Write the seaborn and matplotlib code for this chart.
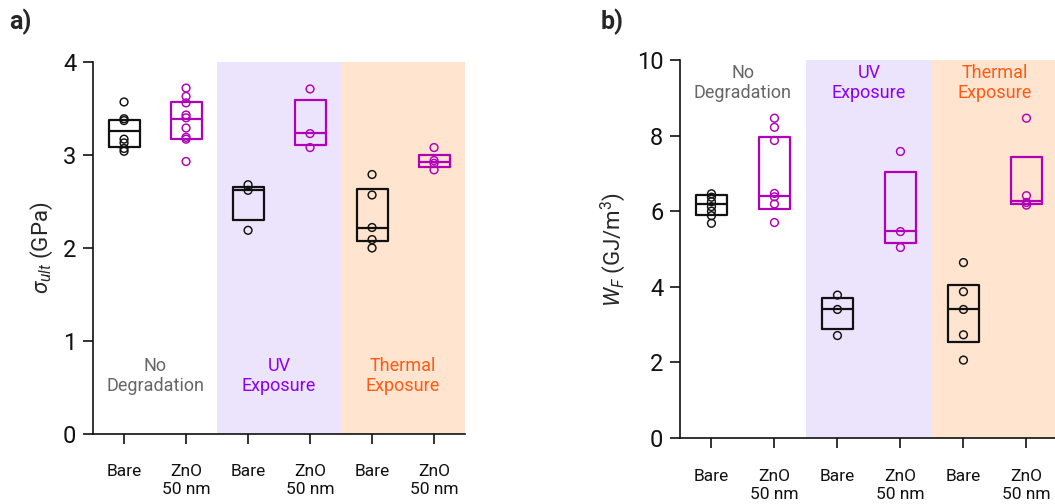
import matplotlib
matplotlib.use("Agg")
import matplotlib.pyplot as plt
import numpy as np
import pandas as pd
import seaborn as sns

# ---- categories -------------------------------------------------------------
groups = ["none_bare", "none_zno", "uv_bare", "uv_zno", "th_bare", "th_zno"]
coating = ["Bare", "ZnO", "Bare", "ZnO", "Bare", "ZnO"]
tick_labels = ["Bare", "ZnO\n50 nm", "Bare", "ZnO\n50 nm", "Bare", "ZnO\n50 nm"]

# ---- (a) ultimate tensile strength, GPa ---------------------------------------
sigma_none_bare = [3.57, 3.39, 3.37, 3.17, 3.13, 3.07, 3.04]
sigma_none_zno = [3.72, 3.63, 3.56, 3.43, 3.40, 3.29, 3.19, 3.17, 2.93]
sigma_uv_bare = [2.68, 2.62, 2.19]
sigma_uv_zno = [3.71, 3.23, 3.08]
sigma_th_bare = [2.79, 2.57, 2.22, 2.09, 2.00]
sigma_th_zno = [3.08, 2.94, 2.91, 2.84]
sigma_q1 = [3.09, 3.17, 2.30, 3.11, 2.07, 2.87]
sigma_mid = [3.26, 3.39, 2.62, 3.24, 2.22, 2.92]
sigma_q3 = [3.38, 3.57, 2.66, 3.59, 2.63, 3.00]

# ---- (b) work of fracture, GJ/m^3 ---------------------------------------------
wf_none_bare = [6.46, 6.37, 6.25, 6.12, 6.00, 5.88, 5.68]
wf_none_zno = [8.46, 8.22, 7.87, 6.47, 6.38, 6.19, 5.70]
wf_uv_bare = [3.78, 3.40, 2.71]
wf_uv_zno = [7.58, 5.46, 5.04]
wf_th_bare = [4.64, 3.87, 3.40, 2.73, 2.06]
wf_th_zno = [8.46, 6.41, 6.23, 6.16]
wf_q1 = [5.89, 6.05, 2.89, 5.17, 2.55, 6.19]
wf_mid = [6.19, 6.40, 3.42, 5.48, 3.40, 6.28]
wf_q3 = [6.42, 7.96, 3.69, 7.04, 4.05, 7.43]

condition_labels = ["No\nDegradation", "UV\nExposure", "Thermal\nExposure"]

# ---- style ------------------------------------------------------------------
sns.set_theme(style="ticks")
plt.rcParams["font.family"] = ["Roboto", "DejaVu Sans"]
plt.rcParams["mathtext.fontset"] = "custom"
plt.rcParams["mathtext.rm"] = "Roboto"
plt.rcParams["mathtext.it"] = "Roboto:italic"
plt.rcParams["mathtext.bf"] = "Roboto:bold"

INK = "#111111"
MAGENTA = "#B000B8"
UV_FILL = "#ECE4FD"
TH_FILL = "#FFE5CF"
TEXT_COLORS = ["#666666", "#8A00F5", "#FF5A14"]
palette = {"Bare": INK, "ZnO": MAGENTA}


def long_frame(point_lists):
    rows = []
    for g, kind, vals in zip(groups, coating, point_lists):
        for v in vals:
            rows.append({"group": g, "coating": kind, "value": v})
    return pd.DataFrame(rows)


def draw_panel(ax, point_lists, q1, mid, q3, ylim, yticks, ylabel, text_y):
    # shaded condition bands
    ax.axvspan(1.5, 3.5, color=UV_FILL, lw=0, zorder=0)
    ax.axvspan(3.5, 5.5, color=TH_FILL, lw=0, zorder=0)

    df = long_frame(point_lists)
    sns.stripplot(data=df, x="group", y="value", hue="coating", order=groups,
                  palette=palette, jitter=False, size=5.6, linewidth=1.05,
                  legend=False, ax=ax, zorder=4)
    for coll in ax.collections:
        fc = coll.get_facecolors()
        coll.set_edgecolors(fc)
        coll.set_facecolors("none")

    stats = [{"q1": a, "med": m, "q3": b, "whislo": a, "whishi": b, "fliers": []}
             for a, m, b in zip(q1, mid, q3)]
    art = ax.bxp(stats, positions=np.arange(len(groups)), widths=0.5,
                 showcaps=False, showfliers=False, manage_ticks=False,
                 boxprops={"linewidth": 1.6}, medianprops={"linewidth": 1.6},
                 whiskerprops={"linewidth": 0})
    for i, kind in enumerate(coating):
        c = palette[kind]
        art["boxes"][i].set_color(c)
        art["medians"][i].set_color(c)
        art["boxes"][i].set_zorder(3)
        art["medians"][i].set_zorder(3)

    for x, lab, col in zip([0.5, 2.5, 4.5], condition_labels, TEXT_COLORS):
        ax.text(x, text_y, lab, ha="center", va="center", color=col,
                fontsize=13, linespacing=1.15, zorder=5)

    ax.set_xlim(-0.5, 5.5)
    ax.set_ylim(*ylim)
    ax.set_yticks(yticks)
    ax.set_xticks(np.arange(len(groups)))
    ax.set_xticklabels(tick_labels, linespacing=1.25)
    ax.set_xlabel("")
    ax.set_ylabel(ylabel, fontsize=16, labelpad=6)
    ax.tick_params(axis="y", length=7, width=1.2, labelsize=17, pad=5, colors=INK)
    ax.tick_params(axis="x", length=7, width=1.2, labelsize=12.5, pad=15, colors=INK)
    for s in ["top", "right"]:
        ax.spines[s].set_visible(False)
    for s in ["left", "bottom"]:
        ax.spines[s].set_linewidth(1.2)
        ax.spines[s].set_color(INK)


fig = plt.figure(figsize=(10.55, 5.04), dpi=100)
ax_a = fig.add_axes([0.0882, 0.139, 0.3526, 0.738])
ax_b = fig.add_axes([0.6445, 0.131, 0.3583, 0.750])

draw_panel(ax_a,
           [sigma_none_bare, sigma_none_zno, sigma_uv_bare, sigma_uv_zno,
            sigma_th_bare, sigma_th_zno],
           sigma_q1, sigma_mid, sigma_q3, (0, 4), [0, 1, 2, 3, 4],
           r"$\sigma_{ult}$ (GPa)", 0.62)
draw_panel(ax_b,
           [wf_none_bare, wf_none_zno, wf_uv_bare, wf_uv_zno,
            wf_th_bare, wf_th_zno],
           wf_q1, wf_mid, wf_q3, (0, 10), [0, 2, 4, 6, 8, 10],
           r"$W_F$ (GJ/m$^3$)", 9.39)

fig.text(0.009, 0.982, "a)", fontsize=18, fontweight="bold", va="top", ha="left")
fig.text(0.569, 0.982, "b)", fontsize=18, fontweight="bold", va="top", ha="left")

fig.savefig("out.png", dpi=100)
